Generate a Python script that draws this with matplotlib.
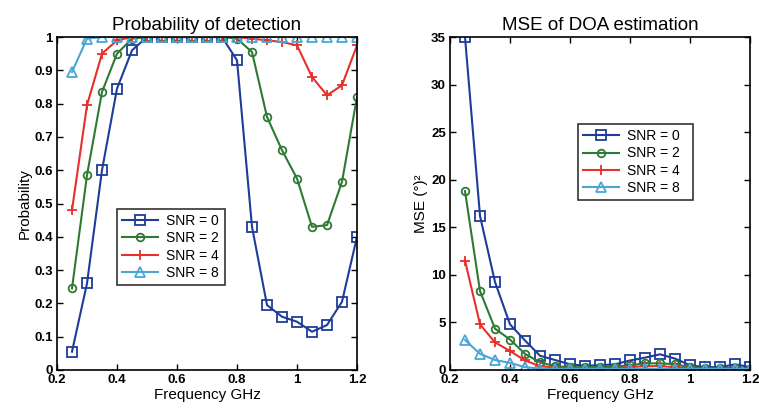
import numpy as np
import matplotlib
matplotlib.use("Agg")
import matplotlib.pyplot as plt

plt.rcParams['font.family'] = ['Liberation Sans', 'DejaVu Sans']

freq = [0.25, 0.30, 0.35, 0.40, 0.45, 0.50, 0.55, 0.60, 0.65, 0.70,
        0.75, 0.80, 0.85, 0.90, 0.95, 1.00, 1.05, 1.10, 1.15, 1.20]

labels = ['SNR = 0', 'SNR = 2', 'SNR = 4', 'SNR = 8']

# Probability of detection per SNR
pd_snr0 = [0.055, 0.26, 0.60, 0.845, 0.96, 1.0, 1.0, 1.0, 1.0, 1.0,
           1.0, 0.93, 0.43, 0.195, 0.16, 0.145, 0.115, 0.135, 0.205, 0.40]
pd_snr2 = [0.245, 0.585, 0.835, 0.95, 0.995, 1.0, 1.0, 1.0, 1.0, 1.0,
           1.0, 0.995, 0.955, 0.76, 0.66, 0.575, 0.43, 0.435, 0.565, 0.82]
pd_snr4 = [0.48, 0.795, 0.95, 0.99, 1.0, 1.0, 1.0, 1.0, 1.0, 1.0,
           1.0, 1.0, 0.995, 0.99, 0.985, 0.975, 0.88, 0.825, 0.855, 0.975]
pd_snr8 = [0.895, 0.995, 1.0, 1.0, 1.0, 1.0, 1.0, 1.0, 1.0, 1.0,
           1.0, 1.0, 1.0, 1.0, 1.0, 1.0, 1.0, 1.0, 1.0, 1.0]

# MSE of DOA estimation per SNR (deg^2)
mse_snr0 = [35.0, 16.2, 9.25, 4.8, 3.1, 1.5, 1.05, 0.6, 0.45, 0.5,
            0.6, 1.0, 1.3, 1.65, 1.2, 0.5, 0.3, 0.3, 0.6, 0.3]
mse_snr2 = [18.8, 8.3, 4.35, 3.2, 1.7, 0.8, 0.4, 0.3, 0.3, 0.3,
            0.35, 0.5, 0.7, 0.7, 0.6, 0.3, 0.2, 0.2, 0.2, 0.15]
mse_snr4 = [11.5, 4.8, 2.9, 2.0, 1.0, 0.4, 0.25, 0.2, 0.2, 0.2,
            0.2, 0.3, 0.4, 0.4, 0.3, 0.2, 0.1, 0.1, 0.1, 0.1]
mse_snr8 = [3.15, 1.7, 1.05, 0.75, 0.3, 0.15, 0.1, 0.1, 0.1, 0.1,
            0.1, 0.1, 0.1, 0.1, 0.1, 0.1, 0.1, 0.1, 0.1, 0.1]

colors = ['#1f3c99', '#2e7a35', '#e5312b', '#4aa6d6']
markers = ['s', 'o', '+', '^']
msizes = [6.5, 5.5, 7, 6.5]


def draw(ax, series, title, ylabel, ylim, yticks, legend_box):
    for y, c, m, ms, lab in zip(series, colors, markers, msizes, labels):
        ax.plot(freq, y, color=c, marker=m, markersize=ms, markerfacecolor='none',
                markeredgecolor=c, markeredgewidth=1.3, linewidth=1.5, label=lab)
    ax.set_xlim(0.2, 1.2)
    ax.set_ylim(*ylim)
    ax.set_xticks(np.arange(0.2, 1.21, 0.2))
    ax.set_xticklabels(['0.2', '0.4', '0.6', '0.8', '1', '1.2'])
    ax.set_yticks(yticks)
    ax.tick_params(direction='in', top=True, right=True, length=4, width=1,
                   labelsize=9.5, pad=3)
    for lab in ax.get_xticklabels() + ax.get_yticklabels():
        lab.set_fontweight('bold')
    for sp in ax.spines.values():
        sp.set_linewidth(1.2)
    ax.set_title(title, fontsize=13.5, pad=5)
    ax.set_xlabel('Frequency GHz', fontsize=11, labelpad=1)
    ax.set_ylabel(ylabel, fontsize=11, labelpad=2)
    leg = ax.legend(loc='lower left', bbox_to_anchor=legend_box, mode='expand',
                    fontsize=10, frameon=True, fancybox=False, edgecolor='black',
                    handlelength=2.6, handletextpad=0.6, borderpad=0.35,
                    labelspacing=0.25, borderaxespad=0)
    leg.get_frame().set_linewidth(1.2)


fig = plt.figure(figsize=(7.59, 4.12), dpi=100)
ax1 = fig.add_axes([57 / 759, 42 / 412, 300 / 759, 333 / 412])
ax2 = fig.add_axes([450 / 759, 42 / 412, 300 / 759, 333 / 412])

draw(ax1, [pd_snr0, pd_snr2, pd_snr4, pd_snr8], 'Probability of detection',
     'Probability', (0, 1), np.round(np.arange(0, 1.01, 0.1), 1),
     (0.2, 0.255, 0.36, 0.24))
ax1.set_yticklabels(['0', '0.1', '0.2', '0.3', '0.4', '0.5', '0.6', '0.7',
                     '0.8', '0.9', '1'], fontweight='bold')

draw(ax2, [mse_snr0, mse_snr2, mse_snr4, mse_snr8], 'MSE of DOA estimation',
     'MSE (°)²', (0, 35), np.arange(0, 36, 5),
     (0.427, 0.51, 0.383, 0.247))

fig.savefig('out.png', dpi=100)
